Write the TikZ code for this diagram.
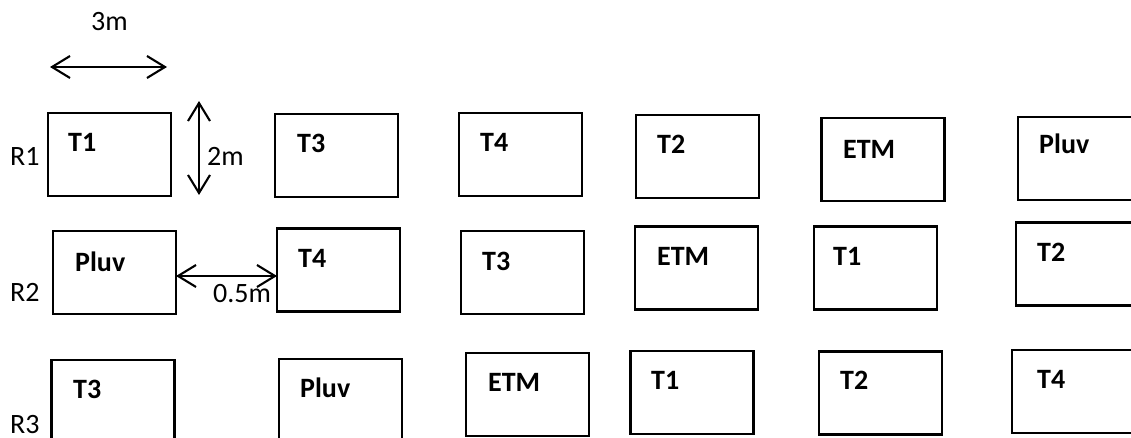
\documentclass[tikz,border=0pt]{standalone}
\usepackage{fontspec}
\setmainfont{Carlito}
\usetikzlibrary{arrows.meta}
\begin{document}
\begin{tikzpicture}[x=1pt,y=-1pt,
  plotbox/.style={draw, line width=2.1pt, minimum width=123pt, minimum height=83pt, inner sep=0pt, outer sep=0pt},
  plotlabel/.style={anchor=base west, inner sep=0pt, font=\bfseries\fontsize{28}{28}\selectfont},
  rowlabel/.style={anchor=base west, inner sep=0pt, font=\fontsize{28}{28}\selectfont},
  dimarrow/.style={line width=2.1pt, {Straight Barb[length=18pt,width=22pt]}-{Straight Barb[length=18pt,width=22pt]}}]
\useasboundingbox (0,0) rectangle (1131,438);
\clip (0,0) rectangle (1131,438);
% Row 1
\node[plotbox] (r1a) at (109.5,154.5) {};
\node[plotbox] (r1b) at (336.5,155.5) {};
\node[plotbox] (r1c) at (520.5,154.5) {};
\node[plotbox] (r1d) at (697.5,156.5) {};
\node[plotbox] (r1e) at (883,159.5) {};
\node[plotbox] (r1f) at (1079.5,158.5) {};
% Row 2
\node[plotbox] (r2a) at (114.5,272.5) {};
\node[plotbox] (r2b) at (338.5,270) {};
\node[plotbox] (r2c) at (522.5,272.5) {};
\node[plotbox] (r2d) at (696.5,268) {};
\node[plotbox] (r2e) at (875.5,268) {};
\node[plotbox] (r2f) at (1077.5,264) {};
% Row 3
\node[plotbox] (r3a) at (113,401.5) {};
\node[plotbox] (r3b) at (340.5,400.5) {};
\node[plotbox] (r3c) at (527.5,394.5) {};
\node[plotbox] (r3d) at (692,392.5) {};
\node[plotbox] (r3e) at (880.5,393) {};
\node[plotbox] (r3f) at (1073.5,391.5) {};
% Plot labels
\node[plotlabel] (l1a) at (68,152) {T1};
\node[plotlabel] (l1b) at (297,153) {T3};
\node[plotlabel] (l1c) at (480,152) {T4};
\node[plotlabel] (l1d) at (657,154) {T2};
\node[plotlabel] (l1e) at (843,159) {ETM};
\node[plotlabel] (l1f) at (1039,154) {Pluv};
\node[plotlabel] (l2a) at (75,271) {Pluv};
\node[plotlabel] (l2b) at (298,267) {T4};
\node[plotlabel] (l2c) at (482,270) {T3};
\node[plotlabel] (l2d) at (657,265) {ETM};
\node[plotlabel] (l2e) at (833,265) {T1};
\node[plotlabel] (l2f) at (1037,261) {T2};
\node[plotlabel] (l3a) at (73,398) {T3};
\node[plotlabel] (l3b) at (300,397) {Pluv};
\node[plotlabel] (l3c) at (488,391) {ETM};
\node[plotlabel] (l3d) at (651,389) {T1};
\node[plotlabel] (l3e) at (840,389) {T2};
\node[plotlabel] (l3f) at (1037,388) {T4};
% Row labels
\node[rowlabel] (R1) at (10,166) {R1};
\node[rowlabel] (R2) at (10,301) {R2};
\node[rowlabel] (R3) at (10,433) {R3};
% Dimension arrows
\coordinate (w1) at (50,67);
\coordinate (w2) at (167,67);
\draw[dimarrow] (w1) -- (w2);
\node[rowlabel] (d3) at (91,31) {3m};
\coordinate (h1) at (199,101);
\coordinate (h2) at (199,195);
\draw[dimarrow] (h1) -- (h2);
\node[rowlabel] (d2) at (207,166) {2m};
\coordinate (gy) at (0,276);
\draw[dimarrow] (r2a.east |- gy) -- (r2b.west |- gy);
\node[rowlabel] (d05) at (213,302) {0.5m};
\end{tikzpicture}
\end{document}
